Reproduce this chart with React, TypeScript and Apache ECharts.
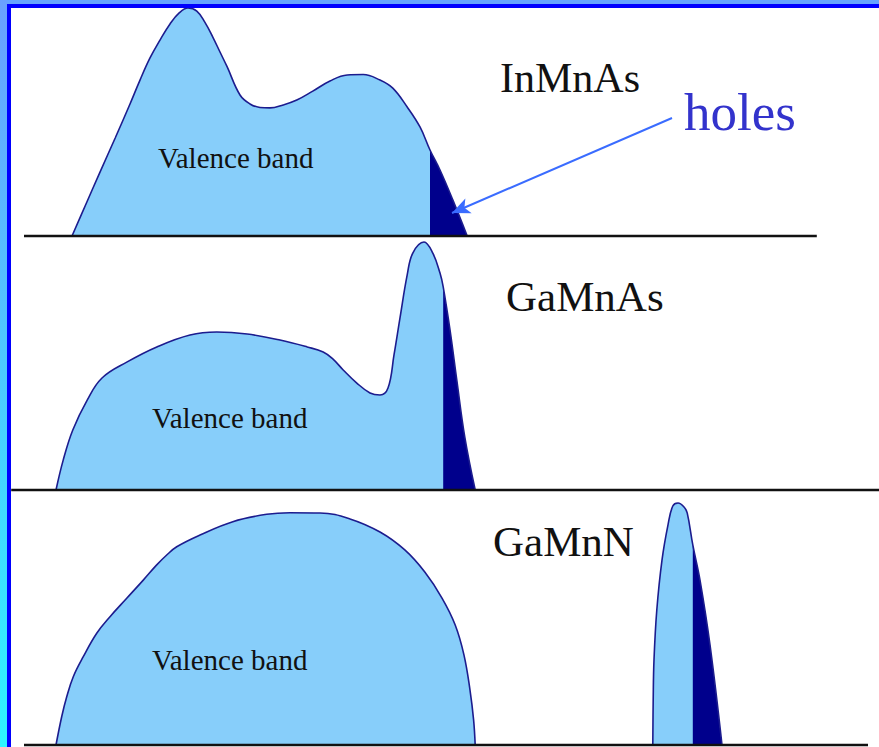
import React, { useEffect, useRef } from "react";
import * as echarts from "echarts";

// Energy (arb. units) vs density of states (arb. units, 0 at baseline)
const panelNames = ["InMnAs", "GaMnAs", "GaMnN"];
const bandLabel = "Valence band";
const holesLabel = "holes";

const inmnasBand = [
  [6.0, 0], [7.75, 13.9], [9.5, 27.8], [11.4, 42.6], [13.25, 57.4], [14.5, 67.8],
  [15.75, 77.4], [17.0, 85.2], [18.25, 92.2], [19.4, 97.0], [20.5, 99.1], [21.6, 97.8],
  [22.6, 93.0], [23.6, 86.5], [24.5, 80.0], [25.4, 73.5], [27.0, 61.3], [28.25, 57.4],
  [29.5, 55.9], [30.75, 55.7], [32.4, 57.0], [34.1, 59.1], [36.1, 63.0], [38.25, 67.4],
  [40.4, 70.0], [42.4, 70.2], [44.5, 67.8], [46.1, 64.3], [47.9, 56.1], [49.5, 47.4],
  [50.75, 37.4], [52.0, 28.7], [53.6, 15.7], [55.4, 0],
];

const gamnasBand = [
  [4.0, 0], [4.9, 13.0], [6.1, 26.1], [7.9, 39.1], [9.75, 48.7], [12.9, 55.7],
  [16.6, 62.2], [20.75, 67.4], [24.1, 68.7], [27.9, 67.8], [32.0, 65.2], [35.4, 62.2],
  [37.4, 60.0], [38.6, 57.0], [39.9, 52.2], [41.6, 46.5], [43.25, 42.2], [44.5, 41.3],
  [45.5, 44.3], [46.25, 58.7], [47.0, 74.8], [47.9, 93.5], [48.6, 103.0], [50.0, 107.8],
  [51.1, 103.0], [52.0, 94.3], [52.4, 88.3], [53.25, 69.6], [54.1, 47.8], [55.1, 23.0],
  [56.4, 0],
];

const gamnnBand = [
  [4.0, 0], [4.71, 12.3], [5.34, 21.0], [6.16, 29.7], [7.41, 38.4], [9.09, 48.6],
  [10.75, 55.8], [12.84, 63.8], [14.91, 71.7], [16.59, 78.3], [17.84, 82.6], [19.09, 86.2],
  [22.0, 91.3], [26.1, 97.1], [30.34, 100.3], [33.25, 101.0], [37.0, 100.9], [40.75, 98.3],
  [44.5, 92.6], [47.6, 84.8], [50.1, 75.2], [52.25, 63.9], [53.9, 52.2], [55.0, 39.1],
  [55.75, 23.9], [56.2, 10.9], [56.4, 0],
];

const gamnnImpurityBand = [
  [78.6, 0], [78.65, 19.6], [78.75, 37.0], [79.1, 58.7], [79.75, 80.4], [80.5, 95.7],
  [81.1, 103.9], [81.75, 105.2], [82.5, 103.5], [82.9, 100.9], [83.6, 87.0], [84.5, 71.7],
  [85.75, 43.5], [87.25, 0],
];

// Energy where the hole (empty-state) region starts in each panel
const holeEdges = [50.75, 52.4, 83.6];

// Extent of each panel's energy baseline
const baselineExtents = [
  [0, 99.1],
  [-1.6, 106.9],
  [0, 105.5],
];

// Arrow from "holes" label to the InMnAs hole region
const arrowFrom = [81.0, 51.3];
const arrowTo = [53.5, 10.0];

const FILL = "#87cefa";
const HOLE = "#00008c";
const OUTLINE = "#1c1c8e";
const SERIF = "'Liberation Serif', 'DejaVu Serif', 'Times New Roman', serif";
const SMOOTH = 0.4;

export default function App() {
  const ref = useRef<HTMLDivElement>(null);

  useEffect(() => {
    if (!ref.current) return;
    const chart = echarts.init(ref.current, undefined, { renderer: "svg" });

    const tops = [6, 260, 515];
    const H = 230;

    const grids = tops.map((t) => ({ left: 0, right: 0, top: t, height: H }));
    const xAxes = tops.map((_, i) => ({
      type: "value", gridIndex: i, min: -3, max: 106.875, show: false,
    }));
    const yAxes = tops.map((_, i) => ({
      type: "value", gridIndex: i, min: 0, max: 100, show: false,
    }));

    const series: any[] = [];
    const addCurve = (data: number[][], holeEdge: number, idx: number) => {
      series.push({
        type: "line", xAxisIndex: idx, yAxisIndex: idx, data, smooth: SMOOTH,
        symbol: "none", clip: false, silent: true, z: 2,
        lineStyle: { width: 0 }, areaStyle: { color: FILL, opacity: 1 },
      });
      series.push({
        type: "line", xAxisIndex: idx, yAxisIndex: idx,
        data: data.filter((p) => p[0] >= holeEdge), smooth: SMOOTH,
        symbol: "none", clip: false, silent: true, z: 3,
        lineStyle: { width: 0 }, areaStyle: { color: HOLE, opacity: 1 },
      });
      series.push({
        type: "line", xAxisIndex: idx, yAxisIndex: idx, data, smooth: SMOOTH,
        symbol: "none", clip: false, silent: true, z: 4,
        lineStyle: { width: 1.6, color: OUTLINE },
      });
    };

    addCurve(inmnasBand, holeEdges[0], 0);
    addCurve(gamnasBand, holeEdges[1], 1);
    // GaMnN: valence band without holes, plus narrow impurity band with holes
    series.push({
      type: "line", xAxisIndex: 2, yAxisIndex: 2, data: gamnnBand, smooth: SMOOTH,
      symbol: "none", clip: false, silent: true, z: 2,
      lineStyle: { width: 1.6, color: OUTLINE }, areaStyle: { color: FILL, opacity: 1 },
    });
    addCurve(gamnnImpurityBand, holeEdges[2], 2);

    baselineExtents.forEach((ext, i) => {
      const s: any = {
        type: "line", xAxisIndex: i, yAxisIndex: i,
        data: [[ext[0], 0], [ext[1], 0]], symbol: "none", clip: false, silent: true, z: 5,
        lineStyle: { width: 2.6, color: "#111111" },
      };
      if (i === 0) {
        s.markLine = {
          silent: true,
          symbol: ["none", "arrow"],
          symbolSize: [12, 18],
          label: { show: false },
          lineStyle: { color: "#3a6cff", width: 2, type: "solid" },
          data: [[{ coord: arrowFrom }, { coord: arrowTo }]],
        };
      }
      series.push(s);
    });

    const txt = (text: string, x: number, y: number, size: number, fill = "#111111") => ({
      type: "text", x, y, z: 10,
      style: { text, font: `${size}px ${SERIF}`, fill, align: "left", verticalAlign: "middle" },
    });

    const option: any = {
      animation: false,
      backgroundColor: "#ffffff",
      grid: grids,
      xAxis: xAxes,
      yAxis: yAxes,
      series,
      graphic: [
        {
          type: "rect", shape: { x: 0, y: 0, width: 7, height: 747 }, z: 20,
          style: {
            fill: new echarts.graphic.LinearGradient(0, 0, 0, 1, [
              { offset: 0, color: "#6aa0ff" },
              { offset: 1, color: "#2ef4ff" },
            ]),
          },
        },
        { type: "rect", shape: { x: 7, y: 0, width: 872, height: 4 }, z: 20, style: { fill: "#66a3ff" } },
        { type: "rect", shape: { x: 7, y: 4, width: 4, height: 743 }, z: 21, style: { fill: "#0000ff" } },
        { type: "rect", shape: { x: 7, y: 4, width: 872, height: 4 }, z: 21, style: { fill: "#0000ff" } },
        txt(panelNames[0], 500, 78, 42),
        txt(panelNames[1], 506, 296, 43),
        txt(panelNames[2], 493, 541, 43),
        txt(holesLabel, 684, 112, 53, "#3333cc"),
        txt(bandLabel, 158, 158, 29),
        txt(bandLabel, 152, 418, 29),
        txt(bandLabel, 152, 660, 29),
      ],
    };

    chart.setOption(option);
    return () => chart.dispose();
  }, []);

  return (
    <div
      ref={ref}
      style={{ position: "fixed", left: 0, top: 0, width: 879, height: 747 }}
    />
  );
}
